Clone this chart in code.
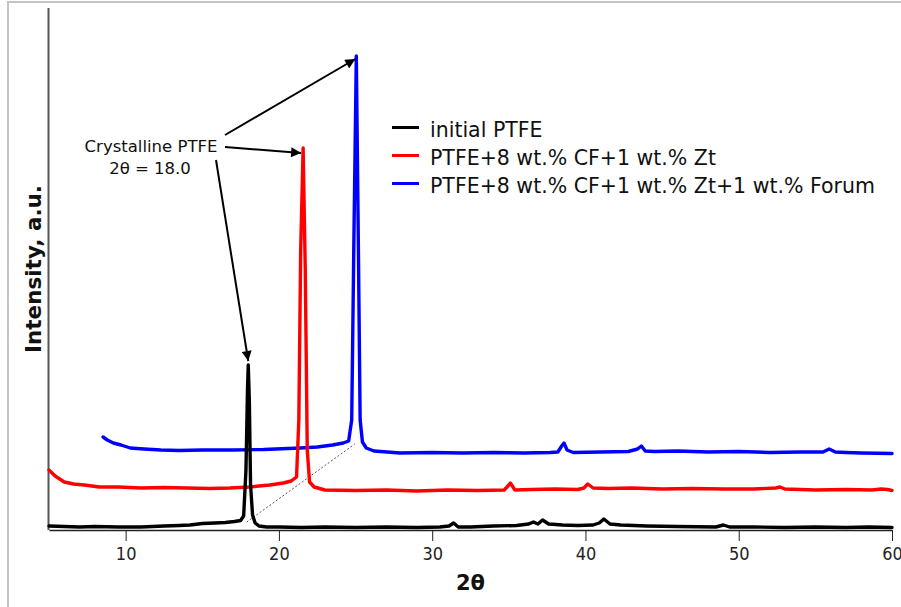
<!DOCTYPE html>
<html>
<head>
<meta charset="utf-8">
<script src="https://cdn.jsdelivr.net/npm/d3@7"></script>
<style>
  body { margin: 0; background: #fff; }
  svg { display: block; }
</style>
</head>
<body>
<div id="chart"></div>
<script>
const W = 901
const H = 607
const margin = { top: 8, left: 49, right: 9, bottom: 77 }

// series names and colours
const labels = [
  'initial PTFE',
  'PTFE+8 wt.% CF+1 wt.% Zt',
  'PTFE+8 wt.% CF+1 wt.% Zt+1 wt.% Forum'
]
const colors = ['#000000', '#ff0000', '#0000ff']

const xTicks = [10, 20, 30, 40, 50, 60]

// 2theta / intensity (a.u.), as drawn (offset waterfall)
const ptfeX = [5, 6, 7, 8, 9.5, 11, 12.5, 13.5, 14.2, 15, 15.8, 16.5, 17.1, 17.5, 17.7, 17.85, 17.95, 18.0, 18.07, 18.15, 18.28, 18.45, 18.7, 19.2, 20, 21.5, 23, 25, 27, 29, 30.5, 31.1, 31.4, 31.7, 32.5, 34, 35.5, 36.3, 36.6, 36.9, 37.2, 37.6, 38.5, 39.5, 40.5, 40.9, 41.2, 41.6, 42.3, 44, 46, 48.5, 49, 49.4, 51, 53, 55, 57, 58.5, 60]
const ptfeY = [4, 3.5, 3, 3.5, 3, 3, 4, 4.5, 5, 6.5, 7, 7.5, 8.5, 9.5, 14, 60, 140, 165, 130, 45, 15, 7, 4, 3, 3, 2.5, 3, 2.5, 3, 2.5, 3, 4, 7, 3, 3, 4, 4.5, 6, 8, 6, 10, 6, 5, 4.5, 5, 7, 11, 6, 5, 4, 3.5, 3, 5, 3, 3, 2.5, 3, 2.5, 3, 2.5]

const zt1X = [5, 5.4, 6, 6.6, 7.3, 8.3, 9.5, 11, 12.5, 14, 15.5, 16.8, 18.1, 19.4, 20.3, 20.8, 21.15, 21.3, 21.42, 21.58, 21.72, 21.85, 22.0, 22.3, 23, 25, 27, 29, 31, 33, 34.7, 35.0, 35.1, 35.4, 36.5, 38, 39.5, 39.9, 40.15, 40.5, 41.5, 43, 45, 47, 49, 51, 52.4, 52.7, 53, 55, 57, 58.7, 59.3, 59.7, 60]
const zt1Y = [60, 54, 48, 46, 45, 43, 43, 42, 42.5, 42, 41.5, 42, 43, 45, 47, 49, 53, 110, 280, 382, 260, 80, 48, 43, 40, 39.5, 40, 39, 40, 39.5, 40, 45, 47, 40, 40.5, 41, 40.5, 42, 46, 42, 41.5, 42, 41, 41.5, 41, 41, 42, 43, 41, 40, 40.5, 40, 41, 40.5, 39.5]

const forumX = [8.53, 8.8, 9.2, 9.7, 10.3, 11.2, 12.3, 13.5, 15, 17, 19, 21.4, 22.5, 23.5, 24.2, 24.55, 24.75, 24.9, 25.05, 25.18, 25.3, 25.45, 25.7, 26.2, 27.9, 30, 32, 34, 36, 37.7, 38.2, 38.45, 38.6, 38.8, 39.2, 41, 42.8, 43.4, 43.65, 43.9, 44.5, 46, 48, 50, 52, 54, 55.5, 55.9, 56.3, 57, 58, 60]
const forumY = [93, 90, 87, 85, 82, 81, 80, 79.5, 80, 80, 80.5, 82, 83, 85, 87, 89, 110, 300, 474, 290, 110, 88, 82, 79, 77, 77.5, 77, 77.5, 77, 77.5, 78, 84, 87, 80, 77.5, 78, 78.5, 81, 84, 79, 78.5, 79, 78, 78.5, 77.5, 78, 78, 81, 78, 77.5, 77, 76.5]

const seriesX = [ptfeX, zt1X, forumX]
const seriesY = [ptfeY, zt1Y, forumY]

const svg = d3
  .select('#chart')
  .append('svg')
  .attr('width', W)
  .attr('height', H)
  .style('font-family', 'DejaVu Sans, Verdana, sans-serif')

// outer frame (top and left edges only are visible)
svg
  .append('path')
  .attr('d', `M8,${H} L8,2 L${W},2`)
  .attr('fill', 'none')
  .attr('stroke', '#c4c4c4')
  .attr('stroke-width', 2)

const xScale = d3
  .scaleLinear()
  .domain([5, 60])
  .range([margin.left, W - margin.right])

const yScale = d3
  .scaleLinear()
  .domain([0, 522])
  .range([H - margin.bottom, margin.top])

// x axis
const xAxis = svg
  .append('g')
  .attr('transform', `translate(0,${H - margin.bottom})`)
  .call(
    d3
      .axisBottom(xScale)
      .tickValues(xTicks)
      .tickSize(11)
      .tickPadding(6)
      .tickSizeOuter(0)
  )
xAxis.select('.domain').attr('stroke', '#222').attr('stroke-width', 1.5)
xAxis.selectAll('.tick line').attr('stroke', '#222')
xAxis
  .selectAll('.tick text')
  .attr('fill', '#222')
  .style('font-family', "'DejaVu Sans Condensed', 'Liberation Sans Narrow', sans-serif")
  .style('font-size', '18px')

// y axis, bare line
svg
  .append('line')
  .attr('x1', margin.left - 0.5)
  .attr('x2', margin.left - 0.5)
  .attr('y1', margin.top)
  .attr('y2', H - margin.bottom)
  .attr('stroke', '#555')
  .attr('stroke-width', 2)

svg
  .append('text')
  .attr('x', (margin.left + W - margin.right) / 2)
  .attr('y', 590)
  .attr('text-anchor', 'middle')
  .attr('font-weight', 'bold')
  .attr('font-size', 21)
  .attr('fill', '#111')
  .text('2θ')

svg
  .append('text')
  .attr('transform', 'translate(41,269) rotate(-90)')
  .attr('text-anchor', 'middle')
  .attr('font-weight', 'bold')
  .attr('font-size', 21.5)
  .attr('fill', '#111')
  .text('Intensity, a.u.')

// dotted guide linking the peak bases
svg
  .append('line')
  .attr('x1', xScale(17.9))
  .attr('y1', yScale(8))
  .attr('x2', xScale(24.95))
  .attr('y2', yScale(86))
  .attr('stroke', '#555')
  .attr('stroke-width', 1)
  .attr('stroke-dasharray', '2,2')

const line = d3
  .line()
  .x(d => xScale(d[0]))
  .y(d => yScale(d[1]))

// draw blue first so black sits on top like in the original
;[2, 1, 0].forEach(i => {
  const pts = seriesX[i].map((x, j) => [x, seriesY[i][j]])
  svg
    .append('path')
    .datum(pts)
    .attr('d', line)
    .attr('fill', 'none')
    .attr('stroke', colors[i])
    .attr('stroke-width', 3.4)
    .attr('stroke-linejoin', 'round')
    .attr('stroke-linecap', 'round')
})

// legend
const legend = svg.append('g').attr('transform', 'translate(392,137)')
labels.forEach((lab, i) => {
  const g = legend.append('g').attr('transform', `translate(0,${i * 28})`)
  g.append('line')
    .attr('x1', 0)
    .attr('x2', 27)
    .attr('y1', -9.5)
    .attr('y2', -9.5)
    .attr('stroke', colors[i])
    .attr('stroke-width', 3)
  g.append('text')
    .attr('x', 38)
    .attr('y', 0)
    .attr('font-size', 20.5)
    .attr('fill', '#111')
    .text(lab)
})

// annotation
svg
  .append('defs')
  .append('marker')
  .attr('id', 'head')
  .attr('viewBox', '0 0 10 10')
  .attr('refX', 10)
  .attr('refY', 5)
  .attr('markerUnits', 'userSpaceOnUse')
  .attr('markerWidth', 11)
  .attr('markerHeight', 10)
  .attr('orient', 'auto')
  .append('path')
  .attr('d', 'M0,0 L10,5 L0,10 Z')
  .attr('fill', '#000')

const note = svg.append('g').attr('font-size', 16.5).attr('fill', '#111')
note
  .append('text')
  .attr('x', 151)
  .attr('y', 152)
  .attr('text-anchor', 'middle')
  .text('Crystalline PTFE')
note
  .append('text')
  .attr('x', 150)
  .attr('y', 174)
  .attr('text-anchor', 'middle')
  .text('2θ = 18.0')

const arrows = [
  [225, 135, xScale(25.05) - 1, yScale(474) + 3],
  [225, 147, xScale(21.58) - 2, yScale(382) + 5],
  [216, 160, xScale(18.0), yScale(165) - 4]
]
arrows.forEach(a => {
  svg
    .append('line')
    .attr('x1', a[0])
    .attr('y1', a[1])
    .attr('x2', a[2])
    .attr('y2', a[3])
    .attr('stroke', '#000')
    .attr('stroke-width', 2)
    .attr('marker-end', 'url(#head)')
})
</script>
</body>
</html>
